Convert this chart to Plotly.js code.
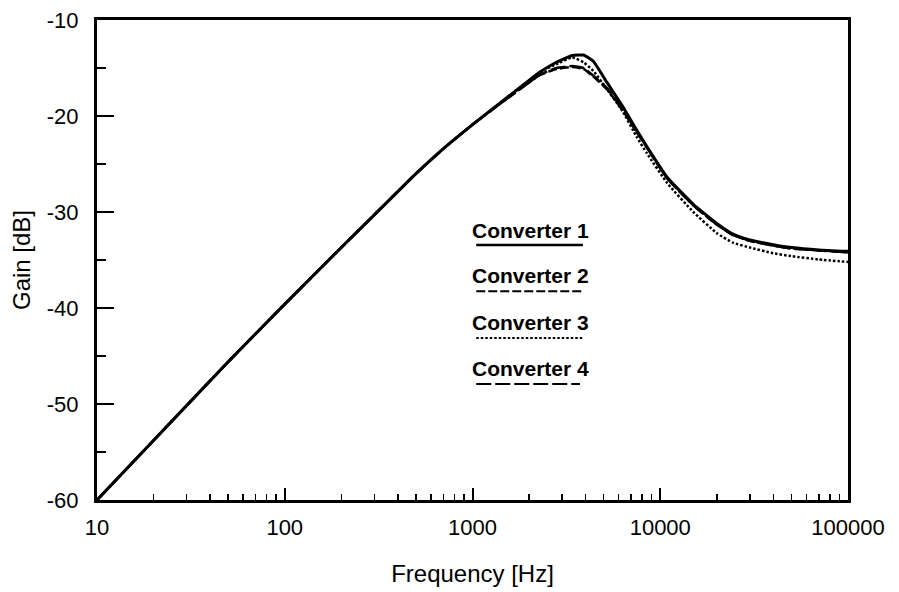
<!DOCTYPE html>
<html>
<head>
<meta charset="utf-8">
<script src="https://cdn.plot.ly/plotly-3.0.1.min.js"></script>
<style>
  html, body { margin: 0; padding: 0; background: #fff; }
  #chart { width: 899px; height: 592px; }
</style>
</head>
<body>
<div id="chart"></div>
<script>
// Frequency grid shared by all four converter responses (Hz)
const freqHz = [10, 20, 50, 100, 200, 300, 500, 700, 1000, 1500, 2000, 2300, 2800, 3400,
  3900, 4400, 5200, 6300, 7500, 8500, 10900, 15000, 20000, 24400, 30000, 40000, 50000, 70000, 100000];

// Gain of each converter (dB)
const gainConv1 = [-60, -53.8, -45.6, -39.6, -33.7, -30.3, -26.0, -23.4, -20.9, -18.2, -16.3, -15.4, -14.4, -13.7,
  -13.65, -14.3, -16.5, -19.0, -21.5, -23.2, -26.4, -29.2, -31.2, -32.3, -32.9, -33.4, -33.7, -33.95, -34.1];
const gainConv2 = [-60, -53.8, -45.6, -39.6, -33.7, -30.3, -26.0, -23.4, -20.9, -18.3, -16.5, -15.7, -15.1, -14.9,
  -15.1, -15.9, -17.2, -19.4, -21.7, -23.3, -26.5, -29.3, -31.3, -32.4, -33.0, -33.5, -33.8, -34.0, -34.2];
const gainConv3 = [-60, -53.8, -45.6, -39.6, -33.7, -30.3, -26.0, -23.4, -20.9, -18.2, -16.3, -15.4, -14.6, -13.9,
  -14.4, -15.3, -17.2, -19.5, -22.2, -23.9, -27.0, -30.0, -32.2, -33.2, -33.7, -34.3, -34.6, -34.95, -35.2];
const gainConv4 = [-60, -53.8, -45.6, -39.6, -33.7, -30.3, -26.0, -23.4, -20.9, -18.3, -16.5, -15.7, -15.0, -14.8,
  -15.0, -15.8, -17.1, -19.3, -21.6, -23.3, -26.5, -29.3, -31.3, -32.4, -33.0, -33.5, -33.8, -34.0, -34.2];

const seriesNames = ['Converter 1', 'Converter 2', 'Converter 3', 'Converter 4'];
const seriesGains = [gainConv1, gainConv2, gainConv3, gainConv4];
const seriesDash = ['solid', '9px,3px', '2.5px,2px', '15px,4px'];
const seriesWidth = [3, 2.5, 2.5, 2.5];

// Axis tick labels
const xTickVals = [10, 100, 1000, 10000, 100000];
const xTickText = ['10', '100', '1000', '10000', '100000'];
const yTickVals = [-60, -50, -40, -30, -20, -10];
const yTickText = ['-60', '-50', '-40', '-30', '-20', '-10'];

// Minor ticks at 2..9 within each decade
const xMinor = [];
for (let d = 10; d < 100000; d *= 10) {
  for (let k = 2; k <= 9; k++) xMinor.push(d * k);
}

const FONT = 'Liberation Sans, Arial, Helvetica, sans-serif';

// Draw order: solid on top so it stays crisp where curves overlap
const traces = [3, 1, 2, 0].map(i => ({
  x: freqHz,
  y: seriesGains[i],
  type: 'scatter',
  mode: 'lines',
  name: seriesNames[i],
  line: { color: '#000', width: seriesWidth[i], dash: seriesDash[i], shape: 'spline', smoothing: 0.4 },
  showlegend: false
}));

// In-plot key: label above a short sample of each line style
const keyX0 = 0.505, keyX1 = 0.647;
const keyLineY = [0.531, 0.435, 0.3375, 0.2417];
const keyTextY = [0.5625, 0.4667, 0.3708, 0.275];
const shapes = seriesNames.map((n, i) => ({
  type: 'line', xref: 'paper', yref: 'paper',
  x0: keyX0, x1: i === 3 ? 0.643 : keyX1, y0: keyLineY[i], y1: keyLineY[i],
  line: { color: '#000', width: i === 0 ? 2.5 : 2, dash: seriesDash[i] }
}));
const annotations = seriesNames.map((n, i) => ({
  text: '<b>' + n + '</b>', xref: 'paper', yref: 'paper',
  x: 0.577, y: keyTextY[i], xanchor: 'center', yanchor: 'middle',
  showarrow: false, font: { family: FONT, size: 21, color: '#000' }
}));

const layout = {
  width: 899, height: 592,
  margin: { l: 97, r: 51, t: 20, b: 92 },
  paper_bgcolor: '#fff', plot_bgcolor: '#fff',
  font: { family: FONT, color: '#000' },
  xaxis: {
    type: 'log', range: [1, 5],
    tickmode: 'array', tickvals: xTickVals, ticktext: xTickText,
    ticks: 'inside', ticklen: 12, tickwidth: 2, tickcolor: '#000',
    minor: { tickmode: 'array', tickvals: xMinor, ticks: 'inside', ticklen: 6, tickwidth: 1.5, tickcolor: '#000', showgrid: false },
    showgrid: false, zeroline: false,
    showline: true, linewidth: 3, linecolor: '#000', mirror: true,
    tickfont: { family: FONT, size: 22, color: '#000' },
    ticklabelstandoff: 6,
    title: { text: 'Frequency [Hz]', font: { family: FONT, size: 24, color: '#000' }, standoff: 26 }
  },
  yaxis: {
    range: [-60, -10],
    tickmode: 'array', tickvals: yTickVals, ticktext: yTickText,
    ticks: 'inside', ticklen: 17, tickwidth: 2, tickcolor: '#000',
    minor: { dtick: 5, ticks: 'inside', ticklen: 9, tickwidth: 2, tickcolor: '#000', showgrid: false },
    showgrid: false, zeroline: false,
    showline: true, linewidth: 3, linecolor: '#000', mirror: true,
    tickfont: { family: FONT, size: 22, color: '#000' },
    ticklabelstandoff: 11,
    title: { text: 'Gain [dB]', font: { family: FONT, size: 24, color: '#000' }, standoff: 10 }
  },
  shapes: shapes,
  annotations: annotations
};

Plotly.newPlot('chart', traces, layout, { staticPlot: true, displayModeBar: false });
</script>
</body>
</html>
